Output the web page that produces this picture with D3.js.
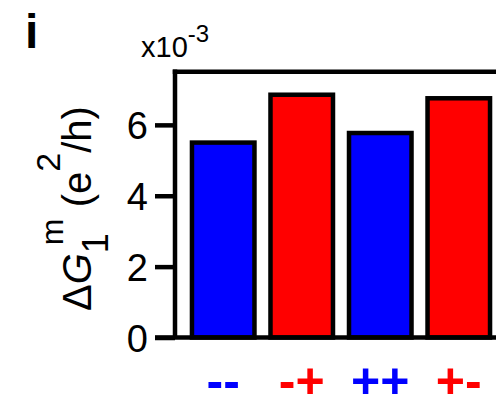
<!DOCTYPE html>
<html>
<head>
<meta charset="utf-8">
<script src="https://cdn.jsdelivr.net/npm/d3@7"></script>
<style>
  html, body { margin: 0; padding: 0; background: #fff; }
  svg { display: block; }
  text { font-family: "Liberation Sans", Arial, sans-serif; }
</style>
</head>
<body>
<script>
// Spin-configuration categories and the conductance step ΔG₁ᵐ (units of 10⁻³ e²/h)
const categories = ["--", "-+", "++", "+-"];
const values = [5.5, 6.85, 5.77, 6.75];
const barColors = ["#0000ff", "#ff0000", "#0000ff", "#ff0000"];
const yTicks = [0, 2, 4, 6];
const yMax = 7.5;

const W = 496, H = 402;
const plotLeft = 175, plotRight = 507, plotTop = 71.7, plotBottom = 337.5;
const lw = 4.5;

const svg = d3.select("body").append("svg")
  .attr("width", W).attr("height", H);

const x = d3.scaleBand()
  .domain(categories)
  .range([plotLeft, plotRight])
  .paddingInner(0.204)
  .paddingOuter(0.216);

const y = d3.scaleLinear().domain([0, yMax]).range([plotBottom, plotTop]);

// bars
svg.append("g").selectAll("rect")
  .data(values)
  .join("rect")
  .attr("x", (d, i) => x(categories[i]))
  .attr("width", x.bandwidth())
  .attr("y", d => y(d))
  .attr("height", d => y(0) - y(d))
  .attr("fill", (d, i) => barColors[i])
  .attr("stroke", "#000")
  .attr("stroke-width", lw);

// frame: top line and baseline
svg.append("line")
  .attr("x1", plotLeft - lw / 2).attr("x2", plotRight)
  .attr("y1", y(yMax)).attr("y2", y(yMax))
  .attr("stroke", "#000").attr("stroke-width", lw);
svg.append("line")
  .attr("x1", plotLeft - 20).attr("x2", plotRight)
  .attr("y1", y(0)).attr("y2", y(0))
  .attr("stroke", "#000").attr("stroke-width", lw);

// y axis
const yAxis = d3.axisLeft(y)
  .tickValues(yTicks)
  .tickFormat(d3.format("d"))
  .tickSize(20)
  .tickSizeOuter(0)
  .tickPadding(7);
const gy = svg.append("g")
  .attr("transform", `translate(${plotLeft},0)`)
  .call(yAxis);
gy.select(".domain")
  .attr("stroke-width", lw)
  .attr("d", `M0,${y(yMax) - lw / 2}V${y(0)}`);
gy.selectAll(".tick line").attr("stroke-width", lw);
gy.selectAll(".tick text")
  .attr("font-size", 38)
  .attr("fill", "#000")
  .attr("dy", "0.36em");

// scale factor above the axis
const sf = svg.append("text").attr("x", 141).attr("y", 57)
  .attr("font-size", 29).attr("fill", "#000");
sf.append("tspan").text("x10");
sf.append("tspan").attr("font-size", 24).attr("dy", -15).text("-3");

// panel letter
svg.append("text").attr("x", 25).attr("y", 48)
  .attr("font-size", 48).attr("font-weight", "bold").attr("fill", "#000")
  .text("i");

// category labels
svg.append("g").selectAll("text")
  .data(categories)
  .join("text")
  .attr("x", d => x(d) + x.bandwidth() / 2)
  .attr("y", 398)
  .attr("text-anchor", "middle")
  .attr("font-size", 50)
  .attr("font-weight", "bold")
  .attr("fill", (d, i) => barColors[i])
  .text(d => d);

// y-axis title: ΔG₁ᵐ (e²/h), read bottom to top
const yl = svg.append("text")
  .attr("transform", "translate(91,311) rotate(-90)")
  .attr("text-anchor", "start")
  .attr("font-size", 40)
  .attr("fill", "#000");
yl.append("tspan").text("Δ");
yl.append("tspan").attr("font-style", "italic").text("G");
yl.append("tspan").attr("font-size", 36).attr("dy", 17).text("1");
yl.append("tspan").attr("font-size", 32).attr("dx", -12).attr("dy", -45).text("m");
yl.append("tspan").attr("dy", 28).text(" (e");
yl.append("tspan").attr("font-size", 34).attr("dy", -31).text("2");
yl.append("tspan").attr("dy", 31).text("/h)");
</script>
</body>
</html>
